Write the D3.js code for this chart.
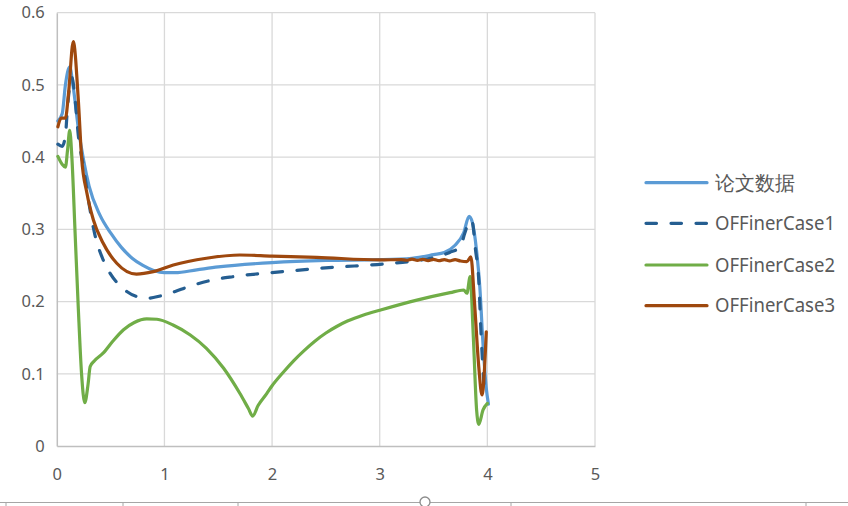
<!DOCTYPE html>
<html>
<head>
<meta charset="utf-8">
<script src="https://cdn.jsdelivr.net/npm/d3@7/dist/d3.min.js"></script>
<style>
  html, body { margin: 0; padding: 0; background: #fff; }
  svg { display: block; }
  text { font-family: "Noto Sans", "Open Sans", sans-serif; fill: #595959; }
</style>
</head>
<body>
<svg id="chart" width="848" height="506"></svg>
<script>
// ---- data ----
const seriesNames = ["论文数据", "OFFinerCase1", "OFFinerCase2", "OFFinerCase3"];
const xTicks = [0, 1, 2, 3, 4, 5];
const yTicks = [0, 0.1, 0.2, 0.3, 0.4, 0.5, 0.6];

const paperX = [0.01,0.05,0.08,0.12,0.15,0.2,0.25,0.3,0.4,0.5,0.6,0.7,0.8,0.9,1.0,1.1,1.3,1.5,2.0,2.5,3.0,3.3,3.5,3.6,3.7,3.78,3.83,3.86,3.9,3.93,3.96,3.99,4.01];
const paperY = [0.45,0.46,0.50,0.525,0.50,0.44,0.395,0.36,0.32,0.295,0.275,0.26,0.25,0.243,0.240,0.240,0.244,0.248,0.254,0.257,0.258,0.260,0.265,0.268,0.278,0.295,0.318,0.31,0.27,0.22,0.14,0.08,0.058];

const case1X = [0.01,0.05,0.08,0.1,0.14,0.17,0.2,0.25,0.3,0.35,0.43,0.5,0.56,0.65,0.74,0.84,0.96,1.1,1.21,1.45,1.64,2.1,2.57,3.03,3.5,3.65,3.75,3.79,3.84,3.86,3.89,3.92,3.94,3.97];
const case1Y = [0.418,0.415,0.43,0.47,0.51,0.48,0.43,0.385,0.335,0.295,0.258,0.238,0.226,0.214,0.207,0.2045,0.2077,0.214,0.22,0.230,0.2345,0.2414,0.2475,0.252,0.261,0.268,0.276,0.2946,0.313,0.31,0.2715,0.23,0.16,0.08];

const case2X = [0.01,0.05,0.08,0.1,0.12,0.14,0.17,0.2,0.23,0.26,0.29,0.31,0.35,0.43,0.52,0.62,0.72,0.835,0.93,1.08,1.24,1.39,1.55,1.70,1.78,1.82,1.87,1.95,2.0,2.1,2.2,2.3,2.4,2.5,2.6,2.7,2.85,3.0,3.345,3.654,3.78,3.81,3.84,3.87,3.9,3.92,3.96,4.0];
const case2Y = [0.401,0.39,0.386,0.41,0.437,0.40,0.295,0.19,0.10,0.06,0.085,0.11,0.118,0.1285,0.145,0.161,0.171,0.176,0.1755,0.1676,0.1537,0.1353,0.1076,0.073,0.052,0.0415,0.056,0.0725,0.0835,0.1015,0.118,0.1325,0.1455,0.1565,0.1655,0.173,0.1815,0.188,0.202,0.2123,0.216,0.2115,0.2345,0.15,0.05,0.03,0.05,0.059];

const case3X = [0.01,0.04,0.08,0.11,0.153,0.2,0.23,0.28,0.34,0.43,0.557,0.74,0.897,1.083,1.39,1.70,2.0,2.415,3.0,3.2,3.25,3.3,3.35,3.4,3.45,3.5,3.55,3.6,3.65,3.7,3.75,3.81,3.847,3.88,3.92,3.95,3.99];
const case3Y = [0.442,0.454,0.454,0.49,0.56,0.479,0.40,0.35,0.313,0.281,0.253,0.238,0.2414,0.2507,0.26,0.2645,0.263,0.2613,0.2576,0.2582,0.2572,0.2588,0.2570,0.2586,0.2568,0.2584,0.2566,0.2582,0.2564,0.2580,0.2562,0.2553,0.262,0.20,0.11,0.0706,0.158];

const colors = ["#5B9BD5", "#255E91", "#70AD47", "#9E480E"];
const dashes = [null, "10.5,14.5", null, null];

// ---- chart ----
const svg = d3.select("#chart");
const x = d3.scaleLinear().domain([0, 5]).range([56.8, 595]);
const y = d3.scaleLinear().domain([0, 0.6]).range([446, 12.7]);

// gridlines
svg.append("g").selectAll("line").data(yTicks.filter(d => d > 0)).join("line")
  .attr("x1", x(0)).attr("x2", x(5))
  .attr("y1", d => y(d)).attr("y2", d => y(d))
  .attr("stroke", "#d9d9d9").attr("stroke-width", 1.3);
svg.append("g").selectAll("line").data(xTicks.filter(d => d > 0)).join("line")
  .attr("y1", y(0)).attr("y2", y(0.6))
  .attr("x1", d => x(d)).attr("x2", d => x(d))
  .attr("stroke", "#d9d9d9").attr("stroke-width", 1.3);

// axes
const xAxis = svg.append("g").attr("transform", `translate(0,${y(0)})`)
  .call(d3.axisBottom(x).tickValues(xTicks).tickSize(0).tickPadding(22).tickFormat(d3.format("d")));
const yAxis = svg.append("g").attr("transform", `translate(${x(0)},0)`)
  .call(d3.axisLeft(y).tickValues(yTicks).tickSize(0).tickPadding(12).tickFormat(d => d === 0 ? "0" : d3.format(".1f")(d)));
[xAxis, yAxis].forEach(a => {
  a.select(".domain").attr("stroke", "#bfbfbf").attr("stroke-width", 1.5);
  a.selectAll("text").style("font-size", "16.5px").attr("fill", "#595959")
    .style("font-family", "'Noto Sans', sans-serif");
});

// lines
const seriesX = [paperX, case1X, case2X, case3X];
const seriesY = [paperY, case1Y, case2Y, case3Y];
const line = d3.line().x(d => x(d[0])).y(d => y(d[1])).curve(d3.curveMonotoneX);
seriesNames.forEach((name, i) => {
  const pts = seriesX[i].map((v, k) => [v, seriesY[i][k]]);
  const p = svg.append("path").datum(pts)
    .attr("d", line)
    .attr("fill", "none")
    .attr("stroke", colors[i])
    .attr("stroke-width", 3.2)
    .attr("stroke-linejoin", "round")
    .attr("stroke-linecap", "round");
  if (dashes[i]) p.attr("stroke-dasharray", dashes[i]);
});

// legend
const legendY = [182.7, 223.3, 265, 305.7];
const lg = svg.append("g");
seriesNames.forEach((name, i) => {
  const l = lg.append("line")
    .attr("x1", 646).attr("x2", 707)
    .attr("y1", legendY[i]).attr("y2", legendY[i])
    .attr("stroke", colors[i]).attr("stroke-width", 3.2)
    .attr("stroke-linecap", "round");
  if (dashes[i]) l.attr("stroke-dasharray", "10.5,14.5");
  const t = lg.append("text")
    .attr("x", 715).attr("y", legendY[i])
    .attr("dy", "0.35em")
    .style("font-size", i === 0 ? "20px" : "19px")
    .text(name);
  if (i > 0) t.attr("textLength", 120).attr("lengthAdjust", "spacingAndGlyphs");
});

// frame bottom (selection border of original)
svg.append("line").attr("x1", 0).attr("x2", 848).attr("y1", 502.5).attr("y2", 502.5)
  .attr("stroke", "#a6a6a6").attr("stroke-width", 1.2);
[6, 123, 238, 511, 806].forEach(px => {
  svg.append("line").attr("x1", px).attr("x2", px).attr("y1", 502.5).attr("y2", 506)
    .attr("stroke", "#a6a6a6").attr("stroke-width", 1);
});
svg.append("circle").attr("cx", 425).attr("cy", 502).attr("r", 5)
  .attr("fill", "#fff").attr("stroke", "#8c8c8c").attr("stroke-width", 1.3);
</script>
</body>
</html>
